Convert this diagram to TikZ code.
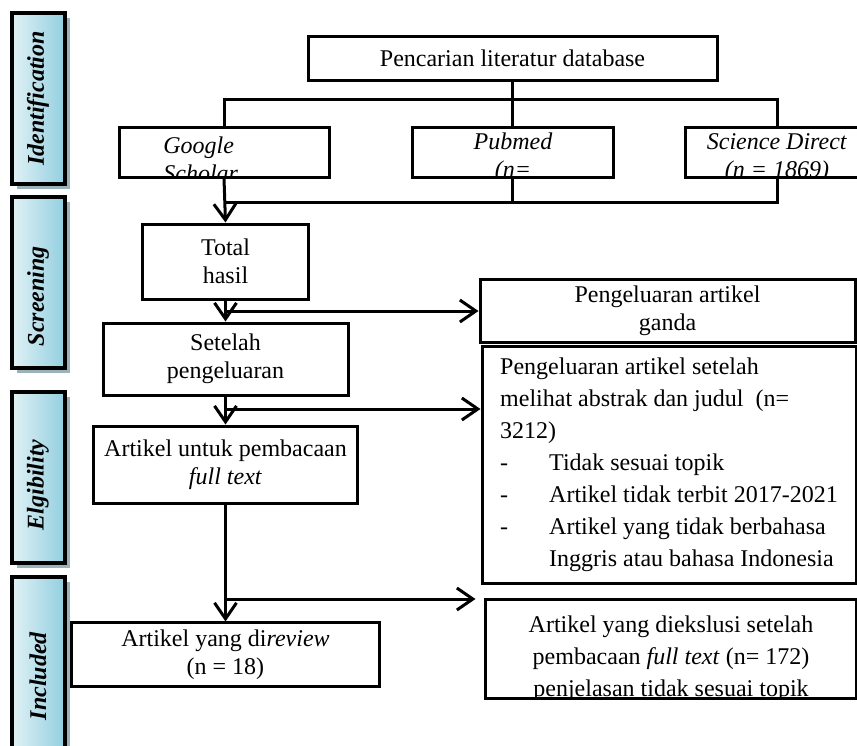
\documentclass[tikz,border=0pt]{standalone}
\usepackage{fontspec}
\setmainfont{Liberation Serif}
\usetikzlibrary{arrows.meta,shadows}
\definecolor{sidelight}{HTML}{E2F2F6}
\definecolor{sidedark}{HTML}{92CFDF}
\definecolor{sideshadow}{HTML}{9CB2BB}
\begin{document}
\begin{tikzpicture}[x=0.5pt,y=-0.5pt,font=\fontsize{12}{14}\selectfont]
    \tikzset{box/.style={draw,line width=1.5pt,align=center},
        side/.style={draw,line width=2pt,left color=sidelight,right color=sidedark,
            minimum width=26.5pt,minimum height=85.5pt,inner sep=0pt,
            font=\fontsize{12}{14}\selectfont\bfseries\itshape,
            drop shadow={shadow xshift=2.5pt,shadow yshift=-2.5pt,fill=sideshadow,opacity=1}},
        arr/.style={line width=1.5pt,-{Straight Barb[length=8pt,width=11pt]}},
        cut/.style={inner sep=0pt,align=center}};
    \useasboundingbox (0,0) rectangle (857,745);
    \clip (0,0) rectangle (857,745);

    \node[side] (ident) at (38,98.5) {\rotatebox{90}{Identification}};
    \node[side] (screen) at (38,282) {\rotatebox{90}{Screening\hspace*{14pt}}};
    \node[side] (elig) at (38,477) {\rotatebox{90}{Elgibility\hspace*{8pt}}};
    \node[side] (incl) at (38,662) {\rotatebox{90}{Included\hspace*{14pt}}};

    \node[box,minimum width=204.5pt,minimum height=22pt] (cari) at (512.5,58) {Pencarian literatur database};
    \node[box,minimum width=105pt,minimum height=25pt] (google) at (224,152) {};
    \node[box,minimum width=100.5pt,minimum height=25pt] (pub) at (512.5,152) {};
    \node[box,minimum width=92pt,minimum height=25pt] (sd) at (777,152) {};
    \node[box,minimum width=83pt,minimum height=37.5pt] (total) at (225.5,261.5) {Total\\hasil};
    \node[box,minimum width=122.5pt,minimum height=36pt] (setelah) at (225.5,359) {Setelah\\pengeluaran};
    \node[box,minimum width=132pt,minimum height=38.5pt] (untuk) at (225.5,464.5) {Artikel untuk pembacaan\\\textit{full text}};
    \node[box,minimum width=154pt,minimum height=28.5pt] (review) at (225.5,654.5) {Artikel yang di\textit{review}\\(n = 18)};
    \node[box,minimum width=187.5pt,minimum height=29pt] (ganda) at (667.5,311) {Pengeluaran artikel\\ganda};
    \node[box,minimum width=187pt,minimum height=118.5pt,align=left,font=\fontsize{12}{16}\selectfont] (abstrak) at (669,464.5)
        {Pengeluaran artikel setelah\\melihat abstrak dan judul\ \ (n=\\3212)\\
        \makebox[24.5pt][l]{-}Tidak sesuai topik\\
        \makebox[24.5pt][l]{-}Artikel tidak terbit 2017-2021\\
        \makebox[24.5pt][l]{-}Artikel yang tidak berbahasa\\
        \hspace*{24.5pt}Inggris atau bahasa Indonesia};
    \node[box,minimum width=185.5pt,minimum height=49.5pt] (eksklusi) at (670.5,648.5) {};

    \begin{scope}
        \clip (google.south west) rectangle (google.north east);
        \node[cut,align=left,anchor=west] (googletext) at (163,159) {\textit{Google}\\\textit{Scholar}};
    \end{scope}
    \begin{scope}
        \clip (pub.south west) rectangle (pub.north east);
        \node[cut] (pubtext) at (513,158) {\textit{Pubmed}\\\textit{(n=}};
    \end{scope}
    \begin{scope}
        \clip (sd.south west) rectangle (sd.north east);
        \node[cut] (sdtext) at (777,158) {\textit{Science Direct}\\\textit{(n = 1869)}};
    \end{scope}
    \begin{scope}
        \clip (eksklusi.south west) rectangle (eksklusi.north east);
        \node[cut,font=\fontsize{12}{16}\selectfont] (ekstext) at (671,658.5)
            {Artikel yang diekslusi setelah\\pembacaan \textit{full text} (n= 172)\\penjelasan tidak sesuai topik};
    \end{scope}

    \coordinate (split) at (512.5,99);
    \coordinate (merge) at (225.5,202);
    \coordinate (j2) at (225.5,409);
    \coordinate (j3) at (225.5,599);
    \draw[line width=1.5pt] (cari.south) -- (split);
    \draw[line width=1.5pt] (google.north) |- (split) -| (sd.north);
    \draw[line width=1.5pt] (split) -- (pub.north);
    \draw[line width=1.5pt] (sd.south) |- (merge);
    \draw[line width=1.5pt] (pub.south) -- (pub.south |- merge);
    \draw[arr] (google.south) -- (total.north);
    \draw[arr] (total.south) -- (setelah.north);
    \draw[arr] (total.south |- ganda.west) -- (ganda.west);
    \draw[arr] (setelah.south) -- (untuk.north);
    \draw[arr] (j2) -- (j2 -| abstrak.west);
    \draw[arr] (untuk.south) -- (review.north);
    \draw[arr,shorten >=4pt] (j3) -- (j3 -| eksklusi.west);
\end{tikzpicture}
\end{document}
